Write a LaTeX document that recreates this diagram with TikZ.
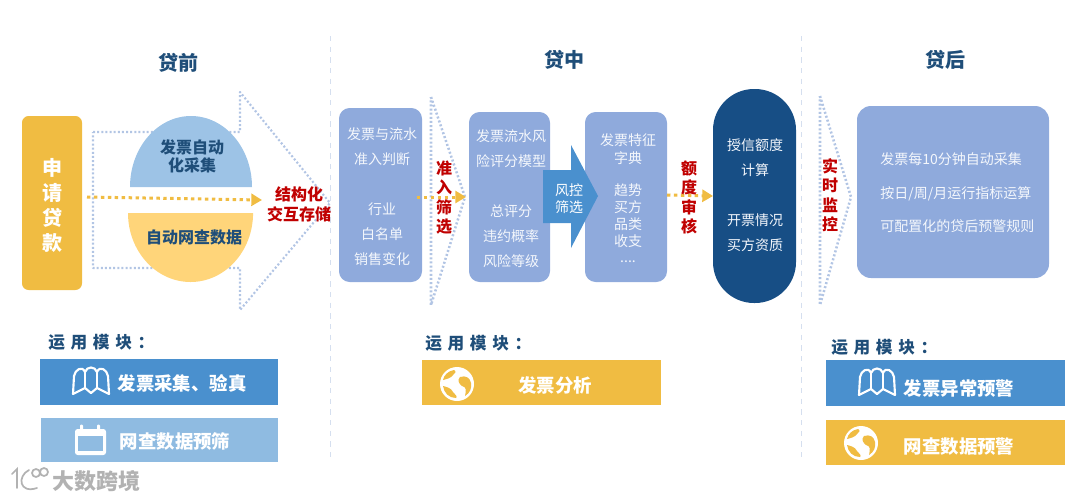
\documentclass[tikz,border=0pt]{standalone}
\usepackage{fontspec}
\setmainfont{Noto Sans CJK SC}
\usetikzlibrary{arrows.meta}
\definecolor{cgold}{HTML}{F0BC42}
\definecolor{cpale}{HTML}{8FAADC}
\definecolor{cnavy}{HTML}{174E85}
\definecolor{cblue}{HTML}{4A90CE}
\definecolor{clight}{HTML}{8FBBE1}
\definecolor{csky}{HTML}{9DC3E6}
\definecolor{csand}{HTML}{FFD57A}
\definecolor{cdot}{HTML}{B2C5E4}
\definecolor{csep}{HTML}{D5DFEF}
\definecolor{chead}{HTML}{1F4E79}
\definecolor{cred}{HTML}{C00000}
\definecolor{csoft}{HTML}{F4F7FC}
\newcommand{\fs}[2]{\fontsize{#1}{#2}\selectfont}
\tikzset{
  pane/.style={fill=cpale,draw=none,rounded corners=8pt,inner sep=0pt,outer sep=0pt},
  banner/.style={draw=none,inner sep=0pt,outer sep=0pt},
  boxtext/.style={text=csoft,align=center,inner sep=0pt,font=\fs{10.5}{18.75}},
  tighttext/.style={text=csoft,align=center,inner sep=0pt,font=\fs{10.5}{12.6}},
  sidetext/.style={text=csoft,anchor=west,inner sep=0pt,font=\fs{10.5}{12}},
  redtext/.style={text=cred,align=center,inner sep=0pt,font=\bfseries\fs{12}{14.5}},
  bluetext/.style={text=chead,align=center,inner sep=0pt,font=\bfseries\fs{12}{13.5}},
  titletext/.style={text=chead,inner sep=0pt,font=\bfseries\fs{15}{15}},
  modtext/.style={text=chead,inner sep=0pt,font=\bfseries\fs{12.5}{12.5}},
  bantext/.style={text=white,inner sep=0pt,font=\bfseries\fs{13.8}{13.8}},
  flow/.style={draw=cgold,line width=2.25pt,dash pattern=on 2.6pt off 2.6pt,-{Triangle[length=8pt,width=9pt,fill=cgold]}},
  outline/.style={draw=cdot,line width=1.6pt,dash pattern=on 1.5pt off 1.6pt},
  sep/.style={draw=csep,line width=.75pt,dash pattern=on 4pt off 4pt},
}
% name, x1, y1, x2, y2, style
\newcommand{\bx}[6]{\node[#6,minimum width={(#4-#2)*0.75pt},minimum height={(#5-#3)*0.75pt}] (#1) at ({(#2+#4)/2},{(#3+#5)/2}) {};}
\newcommand{\mapicon}[2]{\begin{scope}[shift={(#1,#2)}]
  \draw[white,line width=1.6pt,line join=round]
    (0,27) -- (1,9) .. controls (2,3) and (9,-2) .. (12,5) .. controls (14,-1) and (22,-1) .. (24,5) .. controls (27,-2) and (34,3) .. (35,9) -- (36,27) -- (24,21) -- (18,26) -- (12,21) -- cycle;
  \draw[white,line width=1.6pt] (12,5) -- (12,21) (24,5) -- (24,21);
\end{scope}}
\newcommand{\globeicon}[3]{\begin{scope}[shift={(#1,#2)}]
  \fill[white] (0,0) circle[radius=12.75pt];
  \fill[#3] (-3,-14) .. controls (-9,-13) and (-13,-9) .. (-14,-4) .. controls (-10,-5) and (-6,-6) .. (-4,-9) .. controls (-2,-11) and (0,-12) .. (-3,-14) -- cycle;
  \fill[#3] (3,-7) .. controls (9,-9) and (13,-6) .. (14,-1) .. controls (15,4) and (13,9) .. (8,12) .. controls (9,7) and (10,3) .. (5,2) .. controls (2,0) and (0,-4) .. (3,-7) -- cycle;
  \fill[#3] (-14,2) .. controls (-10,3) and (-6,4) .. (-4,8) .. controls (-2,10) and (1,13) .. (-1,14) .. controls (-8,14) and (-13,9) .. (-14,2) -- cycle;
\end{scope}}
\begin{document}
\begin{tikzpicture}[x=0.75pt,y=-0.75pt]
\useasboundingbox (0,0) rectangle (1080,501);
% separators
\coordinate (sepAtop) at (330,36); \coordinate (sepAbot) at (330,460);
\coordinate (sepBtop) at (801,36); \coordinate (sepBbot) at (801,460);
\draw[sep] (sepAtop) -- (sepAbot);
\draw[sep] (sepBtop) -- (sepBbot);
% titles
\node[titletext] (ta) at (178,63) {贷前};
\node[titletext] (tb) at (564,60) {贷中};
\node[titletext] (tc) at (945,60) {贷后};
% pre-loan
\draw[outline,line join=round] (93,132) -- (240,132) -- (240,92) -- (330,203) -- (240,310) -- (240,268) -- (93,268) -- cycle;
\fill[csky] (130,187) arc[start angle=180,end angle=0,x radius=45.75pt,y radius=53.25pt] -- cycle;
\fill[csand] (128,213) arc[start angle=180,end angle=360,x radius=46.9pt,y radius=51.75pt] -- cycle;
\bx{apply}{22}{116}{82}{290}{fill=cgold,draw=none,rounded corners=5pt,inner sep=0pt,outer sep=0pt}
\node[text=white,align=center,inner sep=0pt,font=\bfseries\fs{15}{18.75}] (applyt) at (52,205.5) {申\\请\\贷\\款};
\node[bluetext] (auto) at (192,156) {发票自动\\化采集};
\node[bluetext] (web) at (194,237) {自动网查数据};
\coordinate (store) at (262,200);
\coordinate (applyout) at (87,197);
\draw[flow] (applyout) -- (store);
\node[redtext] (st) at (299,204.5) {结构化\\交互存储};
% mid-loan
\draw[outline,line join=round,line width=1.9pt] (431,97) -- (465,197) -- (431,305) -- cycle;
\bx{p1}{339}{108}{422}{282}{pane}
\node[boxtext] (p1t) at (382,196.5) {发票与流水\\准入判断\\\mbox{}\\行业\\白名单\\销售变化};
\coordinate (p1out) at (417,197);
\coordinate (p2in) at (466,197);
\draw[flow] (p1out) -- (p2in);
\node[redtext,font=\bfseries\fs{12}{14.7}] (adm) at (444,197.5) {准\\入\\筛\\选};
\bx{p2}{469}{112}{550}{282}{pane}
\node[boxtext] (p2t) at (511,199) {发票流水风\\险评分模型\\\mbox{}\\总评分\\违约概率\\风险等级};
\bx{p3}{585}{112}{667}{282}{pane}
\node[tighttext] (p3a) at (628,149) {发票特征\\[1pt]字典};
\node[tighttext] (p3b) at (628,223.5) {趋势\\买方\\品类\\收支\\....};
\fill[cblue] (543,170) -- (571,170) -- (571,145) -- (598,196) -- (571,248) -- (571,223) -- (543,223) -- cycle;
\node[text=white,align=center,inner sep=0pt,font=\fs{10.5}{12.9}] (risk) at (569,198.5) {风控\\筛选};
\bx{pill}{713}{89}{796}{303}{fill=cnavy,draw=none,rounded corners=30.75pt,inner sep=0pt,outer sep=0pt}
\node[boxtext] (pillt) at (755,195.5) {授信额度\\计算\\\mbox{}\\开票情况\\买方资质};
\coordinate (p3out) at (667,195);
\draw[flow] (p3out) -- (pill.west);
\node[redtext,font=\bfseries\fs{12}{14.7}] (quota) at (689,197.5) {额\\度\\审\\核};
% post-loan
\draw[outline,line join=round,line width=1.9pt] (820,96) -- (851,197) -- (820,305) -- cycle;
\node[redtext,font=\bfseries\fs{12}{14.5}] (mon) at (830,195) {实\\时\\监\\控};
\bx{p4}{857}{106}{1049}{278}{fill=cpale,draw=none,rounded corners=10.5pt,inner sep=0pt,outer sep=0pt}
\node[sidetext] (l1) at (880,159) {发票每10分钟自动采集};
\node[sidetext] (l2) at (880,193.5) {按日/周/月运行指标运算};
\node[sidetext] (l3) at (880,226) {可配置化的贷后预警规则};
% modules headings
\node[modtext,anchor=west] (ma) at (48,342) {\addfontfeature{LetterSpace=34}运用模块：};
\node[modtext,anchor=west] (mb) at (425,343) {\addfontfeature{LetterSpace=34}运用模块：};
\node[modtext,anchor=west] (mc) at (831,347) {\addfontfeature{LetterSpace=34}运用模块：};
% banners left
\bx{b1}{40}{359}{278}{405}{banner,fill=cblue}
\mapicon{73}{367}
\node[bantext] (b1t) at (182,383) {发票采集、验真};
\bx{b2}{41}{418}{278}{462}{banner,fill=clight}
\fill[white,rounded corners=2pt] (75,429) rectangle (106,455);
\fill[clight] (78,436) rectangle (103,451);
\fill[white,rounded corners=.8pt] (80,424.5) rectangle (83,432);
\fill[white,rounded corners=.8pt] (97,424.5) rectangle (100,432);
\node[bantext] (b2t) at (175,441) {网查数据预筛};
% banner mid
\bx{b3}{422}{360}{661}{405}{banner,fill=cgold}
\globeicon{457}{384}{cgold}
\node[bantext] (b3t) at (555,385) {发票分析};
% banners right
\bx{b4}{826}{360}{1065}{406}{banner,fill=cblue}
\mapicon{859}{368}
\node[bantext] (b4t) at (959,388) {发票异常预警};
\bx{b5}{826}{420}{1065}{465}{banner,fill=cgold}
\globeicon{861}{443}{cgold}
\node[bantext] (b5t) at (959,447) {网查数据预警};
% watermark
\begin{scope}[draw=black!30,line width=1.3pt,line cap=round]
  \draw (36,473) circle[radius=3pt] (44,472) circle[radius=3pt];
  \draw (12,474) -- (17,469) -- (17,488);
  \draw (29,470) .. controls (17,476) and (19,494) .. (37,488);
\end{scope}
\node[text=black!30,inner sep=0pt,font=\bfseries\fs{16.5}{16.5}] (wm) at (96,481) {大数跨境};
\end{tikzpicture}
\end{document}
